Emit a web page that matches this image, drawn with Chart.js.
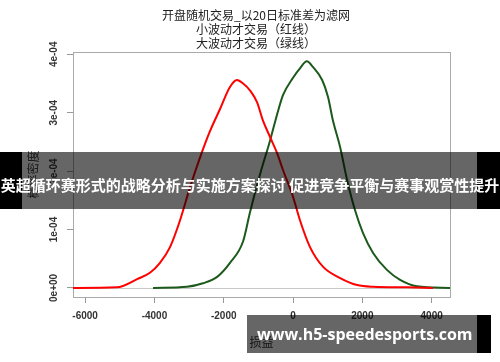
<!DOCTYPE html>
<html>
<head>
<meta charset="utf-8">
<script src="https://cdn.jsdelivr.net/npm/chart.js@4.4.1/dist/chart.umd.min.js"></script>
<style>
  html, body { margin: 0; padding: 0; background: #fff; }
  #wrap { position: relative; width: 500px; height: 362px; overflow: hidden; }
  #banner {
    position: absolute; left: 0; top: 152px; width: 500px; height: 57px;
    background: linear-gradient(to right, #000 0, #000 22px, rgba(0,0,0,0.6) 22px, rgba(0,0,0,0.6) 477px, #000 477px);
    color: #fff; font: bold 15px "Noto Sans CJK SC", sans-serif;
    line-height: 20px; padding-top: 23px; box-sizing: border-box;
    white-space: nowrap; text-align: center; letter-spacing: 0;
  }
  #mark {
    position: absolute; left: 247px; top: 315px; width: 244px; height: 38px;
    background: linear-gradient(to right, rgba(0,0,0,0.6) 0, rgba(0,0,0,0.6) 230px, #000 230px);
    color: #fff; font: bold 16px "Open Sans", sans-serif;
    line-height: 38px; padding-left: 10px; box-sizing: border-box; white-space: nowrap;
  }
</style>
</head>
<body>
<div id="wrap">
  <canvas id="myChart" width="500" height="362"></canvas>
  <div id="banner">英超循环赛形式的战略分析与实施方案探讨 促进竞争平衡与赛事观赏性提升</div>
  <div id="mark">www.h5-speedesports.com</div>
</div>
<script>
// title and axis text
const titleLines = ['开盘随机交易_以20日标准差为滤网', '小波动才交易（红线）', '大波动才交易（绿线）'];
const xTitle = '损益';
const yTitle = '概率密度';

// small-volatility trades (red)
const redX = [-6350, -5080, -4500, -4130, -3840, -3550, -3260, -2970, -2680, -2400, -2110, -1820, -1620, -1440,
              -1240, -1040, -870, -660, -460, -290, 0, 200, 490, 870, 1360, 1850, 2310, 3290, 4040];
const redY = [0, 1e-6, 1.5e-5, 2.6e-5, 4.3e-5, 7.0e-5, 1.16e-4, 1.73e-4, 2.24e-4, 2.68e-4, 3.06e-4, 3.44e-4, 3.56e-4, 3.50e-4,
              3.38e-4, 3.18e-4, 2.87e-4, 2.58e-4, 2.31e-4, 2.02e-4, 1.56e-4, 1.16e-4, 7.0e-5, 3.6e-5, 1.7e-5, 5e-6, 2e-6, 1e-6, 0];

// large-volatility trades (green)
const greenX = [-4040, -3060, -2600, -2190, -1820, -1440, -1240, -950, -660, -460, -290, 0, 200, 400,
                580, 840, 1010, 1150, 1360, 1560, 1790, 2020, 2310, 2710, 3090, 3580, 4530];
const greenY = [0, 2e-6, 8e-6, 1.9e-5, 4.3e-5, 8.0e-5, 1.30e-4, 1.95e-4, 2.53e-4, 2.97e-4, 3.30e-4, 3.60e-4, 3.76e-4, 3.88e-4,
                3.78e-4, 3.56e-4, 3.27e-4, 2.87e-4, 2.41e-4, 1.85e-4, 1.33e-4, 9.4e-5, 6.0e-5, 3.1e-5, 1.4e-5, 3e-6, 0];

// ticks
const xTickValues = [-6000, -4000, -2000, 0, 2000, 4000];
const xTickLabels = ['-6000', '-4000', '-2000', '0', '2000', '4000'];
const yTickValues = [0, 1e-4, 2e-4, 3e-4, 4e-4];
const yTickLabels = ['0e+00', '1e-04', '2e-04', '3e-04', '4e-04'];

const toPoints = (xs, ys) => xs.map((x, i) => ({ x: x, y: ys[i] }));

const tickFont = { family: 'Liberation Sans', size: 10, weight: 'bold' };
const cjkFont = { family: 'Noto Sans CJK SC', size: 12 };

// box around the plot, zero line and the three-line title
const rFrame = {
    id: 'rFrame',
    beforeDatasetsDraw(chart) {
        const { ctx, chartArea: a, scales } = chart;
        const y0 = Math.round(scales.y.getPixelForValue(0)) + 0.5;
        ctx.save();
        ctx.strokeStyle = '#c8c8c8';
        ctx.lineWidth = 1;
        ctx.beginPath();
        ctx.moveTo(a.left, y0);
        ctx.lineTo(a.right, y0);
        ctx.stroke();
        ctx.strokeStyle = '#aaa';
        ctx.strokeRect(a.left + 0.5, a.top + 0.5, a.right - a.left, a.bottom - a.top);
        ctx.restore();
    },
    afterDraw(chart) {
        const { ctx } = chart;
        ctx.save();
        ctx.fillStyle = '#222';
        ctx.font = '12px "Noto Sans CJK SC"';
        ctx.textAlign = 'center';
        ctx.textBaseline = 'middle';
        titleLines.forEach((t, i) => ctx.fillText(t, 256, 15 + i * 14));
        ctx.restore();
    }
};

const ctx = document.getElementById('myChart').getContext('2d');
const myChart = new Chart(ctx, {
    type: 'line',
    data: {
        datasets: [{
            label: 'red',
            data: toPoints(redX, redY),
            borderColor: '#ff0000',
            borderWidth: 2,
            pointRadius: 0,
            cubicInterpolationMode: 'monotone'
        }, {
            label: 'green',
            data: toPoints(greenX, greenY),
            borderColor: '#1b5a1b',
            borderWidth: 2,
            pointRadius: 0,
            cubicInterpolationMode: 'monotone'
        }]
    },
    options: {
        responsive: false,
        animation: false,
        layout: { padding: { top: 52, left: 0, right: 50, bottom: 0 } },
        plugins: { legend: { display: false }, tooltip: { enabled: false } },
        scales: {
            x: {
                type: 'linear',
                min: -6350,
                max: 4530,
                afterBuildTicks: (s) => { s.ticks = xTickValues.map(v => ({ value: v })); },
                afterFit: (s) => { s.height = 65; },
                grid: { drawOnChartArea: false, tickLength: 6, color: '#999' },
                border: { display: true, color: '#aaa' },
                ticks: { font: tickFont, color: '#333', padding: 7, maxRotation: 0,
                         callback: (v, i) => xTickLabels[i] },
                title: { display: true, text: xTitle, font: cjkFont, color: '#333', padding: { top: 0, bottom: 12 } }
            },
            y: {
                min: -1.55e-5,
                max: 4.04e-4,
                afterBuildTicks: (s) => { s.ticks = yTickValues.map(v => ({ value: v })); },
                afterFit: (s) => { s.width = 73; },
                grid: { drawOnChartArea: false, tickLength: 6, color: '#999' },
                border: { display: true, color: '#aaa' },
                ticks: { font: tickFont, color: '#333', padding: -1, minRotation: 90, maxRotation: 90,
                         crossAlign: 'center', callback: (v, i) => yTickLabels[i] },
                title: { display: true, text: yTitle, font: cjkFont, color: '#444', padding: { top: 26, bottom: 0 } }
            }
        }
    },
    plugins: [rFrame]
});
</script>
</body>
</html>
